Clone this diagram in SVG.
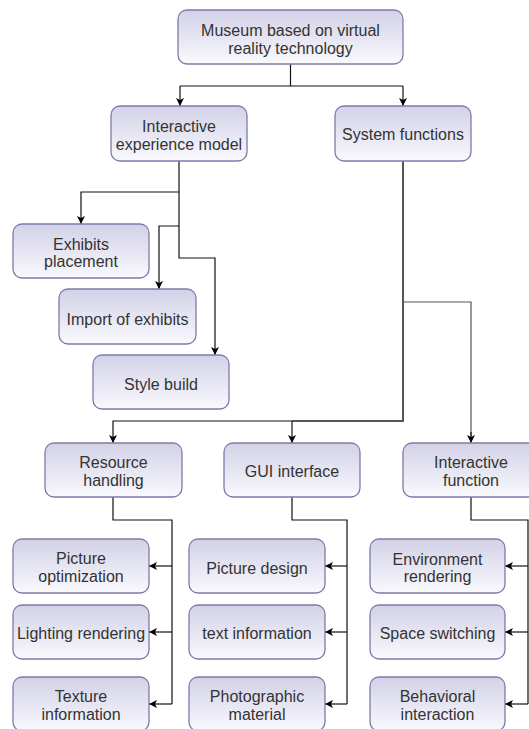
<svg xmlns="http://www.w3.org/2000/svg" width="529" height="729" viewBox="0 0 529 729">
  <defs>
    <linearGradient id="boxFill" x1="0" y1="0" x2="0" y2="1">
      <stop offset="0" stop-color="#d2d1e7"/>
      <stop offset="1" stop-color="#f9f9fd"/>
    </linearGradient>
    <marker id="arrow" markerUnits="userSpaceOnUse" markerWidth="10" markerHeight="10" refX="9" refY="5" orient="auto">
      <path d="M1,1 L9,5 L1,9 L3,5 Z" fill="#000"/>
    </marker>
  </defs>
  <style>
    .box { fill: url(#boxFill); stroke: #7d7ba9; stroke-width: 1.3; }
    .label { font-family: "Liberation Sans", Arial, sans-serif; font-size: 16px; fill: #333; text-anchor: middle; }
    .link { fill: none; stroke: #111; stroke-width: 1.2; }
    .trunk { fill: none; stroke: #555; stroke-width: 2; }
    .thin { fill: none; stroke: #555; stroke-width: 1.2; }
  </style>

  <rect width="529" height="729" fill="#fff"/>

  <g id="connectors">
    <!-- root to second level -->
    <path class="link" d="M290.5,64 V86"/>
    <path class="link" d="M180,86 H403"/>
    <path class="link" d="M180,86 V106" marker-end="url(#arrow)"/>
    <path class="link" d="M403,86 V106" marker-end="url(#arrow)"/>
    <!-- interactive experience model branches -->
    <path class="link" d="M179,161 V258 H215 V355" marker-end="url(#arrow)"/>
    <path class="link" d="M179,192 H81 V224" marker-end="url(#arrow)"/>
    <path class="link" d="M179,226 H159 V289" marker-end="url(#arrow)"/>
    <!-- system functions branches -->
    <path class="trunk" d="M403,161 V421 H292"/>
    <path class="link" d="M292,421 H113 V443" marker-end="url(#arrow)"/>
    <path class="link" d="M292,421 V443" marker-end="url(#arrow)"/>
    <path class="thin" d="M403,302 H471 V436"/>
    <path class="link" d="M471,432 V443" marker-end="url(#arrow)"/>
    <!-- resource handling children -->
    <path class="link" d="M113,497 V520 H172 V704"/>
    <path class="link" d="M172,566 H149" marker-end="url(#arrow)"/>
    <path class="link" d="M172,632 H149" marker-end="url(#arrow)"/>
    <path class="link" d="M172,704 H149" marker-end="url(#arrow)"/>
    <!-- GUI interface children -->
    <path class="link" d="M292,497 V520 H347 V704"/>
    <path class="link" d="M347,566 H325" marker-end="url(#arrow)"/>
    <path class="link" d="M347,632 H325" marker-end="url(#arrow)"/>
    <path class="link" d="M347,704 H325" marker-end="url(#arrow)"/>
    <!-- interactive function children -->
    <path class="link" d="M471,497 V520 H528 V704"/>
    <path class="link" d="M528,566 H505" marker-end="url(#arrow)"/>
    <path class="link" d="M528,632 H505" marker-end="url(#arrow)"/>
    <path class="link" d="M528,704 H505" marker-end="url(#arrow)"/>
  </g>

  <g id="museum">
    <rect class="box" x="178" y="10" width="225" height="54" rx="9"/>
    <text class="label" x="290.5" y="35.5">Museum based on virtual</text>
    <text class="label" x="290.5" y="53.5">reality technology</text>
  </g>
  <g id="interactive-experience-model">
    <rect class="box" x="111" y="106" width="136" height="55" rx="9"/>
    <text class="label" x="179" y="132">Interactive</text>
    <text class="label" x="179" y="150">experience model</text>
  </g>
  <g id="system-functions">
    <rect class="box" x="335" y="106" width="136" height="55" rx="9"/>
    <text class="label" x="403" y="140">System functions</text>
  </g>
  <g id="exhibits-placement">
    <rect class="box" x="13" y="224" width="136" height="54" rx="9"/>
    <text class="label" x="81" y="249.5">Exhibits</text>
    <text class="label" x="81" y="267">placement</text>
  </g>
  <g id="import-of-exhibits">
    <rect class="box" x="59" y="289" width="137" height="55" rx="9"/>
    <text class="label" x="127.5" y="325">Import of exhibits</text>
  </g>
  <g id="style-build">
    <rect class="box" x="93" y="355" width="136" height="54" rx="9"/>
    <text class="label" x="161" y="390">Style build</text>
  </g>
  <g id="resource-handling">
    <rect class="box" x="45" y="443" width="137" height="54" rx="9"/>
    <text class="label" x="113.5" y="468">Resource</text>
    <text class="label" x="113.5" y="485.5">handling</text>
  </g>
  <g id="gui-interface">
    <rect class="box" x="224" y="443" width="136" height="54" rx="9"/>
    <text class="label" x="292" y="477">GUI interface</text>
  </g>
  <g id="interactive-function">
    <rect class="box" x="403" y="443" width="136" height="54" rx="9"/>
    <text class="label" x="471" y="468">Interactive</text>
    <text class="label" x="471" y="485.5">function</text>
  </g>
  <g id="picture-optimization">
    <rect class="box" x="13" y="539" width="136" height="54" rx="9"/>
    <text class="label" x="81" y="564">Picture</text>
    <text class="label" x="81" y="582">optimization</text>
  </g>
  <g id="lighting-rendering">
    <rect class="box" x="13" y="605" width="136" height="54" rx="9"/>
    <text class="label" x="81" y="639">Lighting rendering</text>
  </g>
  <g id="texture-information">
    <rect class="box" x="13" y="677" width="136" height="54" rx="9"/>
    <text class="label" x="81" y="702">Texture</text>
    <text class="label" x="81" y="720">information</text>
  </g>
  <g id="picture-design">
    <rect class="box" x="189" y="539" width="136" height="54" rx="9"/>
    <text class="label" x="257" y="574">Picture design</text>
  </g>
  <g id="text-information">
    <rect class="box" x="189" y="605" width="136" height="54" rx="9"/>
    <text class="label" x="257" y="639">text information</text>
  </g>
  <g id="photographic-material">
    <rect class="box" x="189" y="677" width="136" height="54" rx="9"/>
    <text class="label" x="257" y="702">Photographic</text>
    <text class="label" x="257" y="720">material</text>
  </g>
  <g id="environment-rendering">
    <rect class="box" x="370" y="539" width="135" height="54" rx="9"/>
    <text class="label" x="437.5" y="565">Environment</text>
    <text class="label" x="437.5" y="582">rendering</text>
  </g>
  <g id="space-switching">
    <rect class="box" x="370" y="605" width="135" height="54" rx="9"/>
    <text class="label" x="437.5" y="639">Space switching</text>
  </g>
  <g id="behavioral-interaction">
    <rect class="box" x="370" y="677" width="135" height="54" rx="9"/>
    <text class="label" x="437.5" y="702">Behavioral</text>
    <text class="label" x="437.5" y="720">interaction</text>
  </g>
</svg>
